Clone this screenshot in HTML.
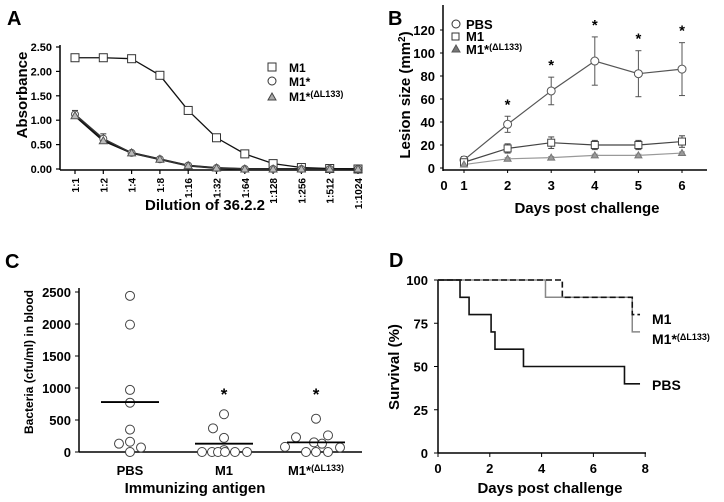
<!DOCTYPE html>
<html><head><meta charset="utf-8">
<style>
html,body{margin:0;padding:0;background:#fff;}
svg{display:block;font-family:"Liberation Sans",Arial,sans-serif;font-weight:bold;}
</style></head>
<body>
<svg id="fig" width="724" height="502" viewBox="0 0 724 502" xmlns="http://www.w3.org/2000/svg">
<text x="7" y="25" font-size="20">A</text>
<text x="388" y="25" font-size="20">B</text>
<text x="5" y="268" font-size="20">C</text>
<text x="389" y="267" font-size="20">D</text>
<g id="pa"></g>
<g id="pb"></g>
<g id="pc"></g>
<g id="pd"></g>
</svg>
<script>
// Panel A data
const aCats = ["1:1","1:2","1:4","1:8","1:16","1:32","1:64","1:128","1:256","1:512","1:1024"];
const aM1 = [2.28,2.28,2.26,1.92,1.20,0.64,0.31,0.11,0.03,0.01,0.00];
const aM1s = [1.12,0.62,0.33,0.20,0.07,0.02,0.00,0.00,0.00,0.00,0.00];
const aDL = [1.09,0.58,0.33,0.20,0.07,0.02,0.00,0.00,0.00,0.00,0.00];
const aErr = [0.08,0.10,0.02,0.02,0.01,0.01,0,0,0,0,0];
const aTicks = ["0.00","0.50","1.00","1.50","2.00","2.50"];
// Panel B data
const bDays = [1,2,3,4,5,6];
const bPBS = [7,38,67,93,82,86];
const bPBSerr = [3,7,12,21,20,23];
const bM1 = [5,17,22,20,20,23];
const bM1err = [3,4,5,4,4,5];
const bDL = [3,8,9,11,11,13];
const bDLerr = [1,1,1,1,1,1];
const bStarDays = [2,3,4,5,6];
const bTicks = [0,20,40,60,80,100,120];
// Panel C data
const cGroups = ["PBS","M1","M1*"];
const cPBS = [2440,1990,970,770,350,130,160,70,0];
const cPBSoff = [0,0,0,0,0,-11,0,11,0];
const cM1 = [590,370,220,30,0,0,0,0,0,0];
const cM1off = [0,-11,0,0,-22,-12,-6,1,11,23];
const cDL = [520,230,260,150,130,80,70,0,0,0];
const cDLoff = [0,-20,12,-2,6,-31,24,-10,0,12];
const cMeans = [780,130,150];
const cTicks = [0,500,1000,1500,2000,2500];
// Panel D data
const dPBSt = [0,0.85,1.2,2.05,2.2,3.3,7.2,7.8];
const dPBSv = [100,90,80,70,60,50,40,40];
const dM1t = [0,4.8,7.5,7.8];
const dM1v = [100,90,80,80];
const dDLt = [0,4.15,7.5,7.8];
const dDLv = [100,90,70,70];
const dXTicks = [0,2,4,6,8];
const dYTicks = [0,25,50,75,100];

const NS="http://www.w3.org/2000/svg";
function mk(parent,tag,attrs,txt){const e=document.createElementNS(NS,tag);for(const k in attrs)e.setAttribute(k,attrs[k]);if(txt!==undefined)e.textContent=txt;parent.appendChild(e);return e;}

// ---------- Panel A ----------
(function(){
const g=document.getElementById('pa');
const X=i=>75+i*28.3, Y=v=>169-v*48.8;
let e=mk(g,'line',{x1:60,y1:45,x2:60,y2:170,stroke:'#000','stroke-width':1.5});


e=mk(g,'line',{x1:60,y1:170,x2:362,y2:170,stroke:'#000','stroke-width':1.5});


aTicks.forEach(t=>{const y=Y(+t);mk(g,'line',{x1:56,y1:y,x2:60,y2:y,stroke:'#000','stroke-width':1.2});
 e=mk(g,'text',{x:52,y:y+4,'font-size':11,'text-anchor':'end'},t);
 
 });
aCats.forEach((c,i)=>{const x=X(i);mk(g,'line',{x1:x,y1:170,x2:x,y2:174,stroke:'#000','stroke-width':1.2});
 e=mk(g,'text',{x:0,y:0,'font-size':10,'text-anchor':'end',transform:`translate(${x+4},178) rotate(-90)`},c);
 
 });
e=mk(g,'text',{x:205,y:210,'font-size':15,'text-anchor':'middle'},'Dilution of 36.2.2');


e=mk(g,'text',{x:0,y:0,'font-size':15,'text-anchor':'middle',transform:'translate(27,95) rotate(-90)'},'Absorbance');


function line(arr,name,w,col){let d=arr.map((v,i)=>(i?'L':'M')+X(i)+' '+Y(v)).join('');
 e=mk(g,'path',{d:d,fill:'none',stroke:col,'stroke-width':w});
 
 }
line(aDL,'a-line-m1-dl133',2,'#111');line(aM1s,'a-line-m1star',1.5,'#333');line(aM1,'a-line-m1',1.3,'#111');
aM1s.forEach((v,i)=>{if(aErr[i]>0){mk(g,'line',{x1:X(i),y1:Y(v+aErr[i]),x2:X(i),y2:Y(v-aErr[i]),stroke:'#333'});mk(g,'line',{x1:X(i)-3,y1:Y(v+aErr[i]),x2:X(i)+3,y2:Y(v+aErr[i]),stroke:'#333'});}});
aM1.forEach((v,i)=>{e=mk(g,'rect',{x:X(i)-4,y:Y(v)-4,width:8,height:8,fill:'#fff',stroke:'#333','stroke-width':1});
 
 });
aM1s.forEach((v,i)=>{e=mk(g,'circle',{cx:X(i),cy:Y(v),r:3.5,fill:'#fff',stroke:'#555'});
 
 });
aDL.forEach((v,i)=>{const x=X(i),y=Y(v);e=mk(g,'path',{d:`M${x} ${y-4}L${x+4} ${y+3}L${x-4} ${y+3}Z`,fill:'#bbb',stroke:'#555'});
 
 });
// legend
mk(g,'rect',{x:268,y:63,width:8,height:8,fill:'#fff',stroke:'#333'});
mk(g,'circle',{cx:272,cy:81,r:4,fill:'#fff',stroke:'#333'});
mk(g,'path',{d:'M272 93L276 100L268 100Z',fill:'#aaa',stroke:'#444'});
e=mk(g,'text',{x:289,y:72,'font-size':12},'M1');
e=mk(g,'text',{x:289,y:86,'font-size':12},'M1*');
e=mk(g,'text',{x:289,y:101,'font-size':12});e.innerHTML='M1*<tspan font-size="9" dy="-4">(ΔL133)</tspan>';
})();

// ---------- Panel B ----------
(function(){
const g=document.getElementById('pb');
const X=d=>464+(d-1)*43.6, Y=v=>168-v*1.15;
let e=mk(g,'line',{x1:443,y1:5,x2:443,y2:171,stroke:'#000','stroke-width':1.5});

e=mk(g,'line',{x1:443,y1:170,x2:707,y2:170,stroke:'#000','stroke-width':1.5});

bTicks.forEach(t=>{const y=Y(t);mk(g,'line',{x1:440,y1:y,x2:443,y2:y,stroke:'#000'});
 e=mk(g,'text',{x:435,y:y+5,'font-size':13,'text-anchor':'end'},t);
 });
e=mk(g,'text',{x:444,y:190,'font-size':13,'text-anchor':'middle'},'0');
bDays.forEach(d=>{const x=X(d);mk(g,'line',{x1:x,y1:170,x2:x,y2:173,stroke:'#000'});
 e=mk(g,'text',{x:x,y:190,'font-size':13,'text-anchor':'middle'},d);
 });
e=mk(g,'text',{x:587,y:213,'font-size':15,'text-anchor':'middle'},'Days post challenge');

e=mk(g,'text',{x:0,y:0,'font-size':15,'text-anchor':'middle',transform:'translate(410,95) rotate(-90)'});
e.innerHTML='Lesion size (mm<tspan font-size="10" dy="-5">2</tspan><tspan dy="5">)</tspan>';

function series(v,err,col,name){
 e=mk(g,'path',{d:v.map((y,i)=>(i?'L':'M')+X(bDays[i])+' '+Y(y)).join(''),fill:'none',stroke:col,'stroke-width':1.2});
 
 v.forEach((y,i)=>{const x=X(bDays[i]);mk(g,'line',{x1:x,y1:Y(y+err[i]),x2:x,y2:Y(y-err[i]),stroke:col});
  mk(g,'line',{x1:x-3,y1:Y(y+err[i]),x2:x+3,y2:Y(y+err[i]),stroke:col});mk(g,'line',{x1:x-3,y1:Y(y-err[i]),x2:x+3,y2:Y(y-err[i]),stroke:col});});}
series(bDL,bDLerr,'#999','b-line-m1-dl133');series(bM1,bM1err,'#444','b-line-m1');series(bPBS,bPBSerr,'#555','b-line-pbs');
bPBS.forEach((v,i)=>{e=mk(g,'circle',{cx:X(bDays[i]),cy:Y(v),r:4,fill:'#fff',stroke:'#555'});});
bM1.forEach((v,i)=>{e=mk(g,'rect',{x:X(bDays[i])-3.5,y:Y(v)-3.5,width:7,height:7,fill:'#fff',stroke:'#444'});});
bDL.forEach((v,i)=>{const x=X(bDays[i]),y=Y(v);e=mk(g,'path',{d:`M${x} ${y-3.5}L${x+3.5} ${y+2.5}L${x-3.5} ${y+2.5}Z`,fill:'#999',stroke:'#777'});});
bStarDays.forEach(d=>{const i=bDays.indexOf(d);const top=bPBS[i]+bPBSerr[i];
 e=mk(g,'text',{x:X(d),y:Y(top)-7,'font-size':15,'text-anchor':'middle'},'*');
 });
mk(g,'circle',{cx:456,cy:24,r:4,fill:'#fff',stroke:'#333'});
mk(g,'rect',{x:452,y:33,width:7,height:7,fill:'#fff',stroke:'#333'});
mk(g,'path',{d:'M456 45L460 52L452 52Z',fill:'#777',stroke:'#555'});
e=mk(g,'text',{x:466,y:29,'font-size':13},'PBS');
e=mk(g,'text',{x:466,y:41,'font-size':13},'M1');
e=mk(g,'text',{x:466,y:54,'font-size':13});e.innerHTML='M1*<tspan font-size="9" dy="-4">(ΔL133)</tspan>';
})();

// ---------- Panel C ----------
(function(){
const g=document.getElementById('pc');
const cx=[130,224,316];const Y=v=>452-v*0.064;
let e=mk(g,'line',{x1:79,y1:288,x2:79,y2:452,stroke:'#000','stroke-width':1.5});

e=mk(g,'line',{x1:79,y1:452,x2:362,y2:452,stroke:'#000','stroke-width':1.5});

cTicks.forEach(t=>{const y=Y(t);mk(g,'line',{x1:75,y1:y,x2:79,y2:y,stroke:'#000'});
 e=mk(g,'text',{x:71,y:y+5,'font-size':13,'text-anchor':'end'},t);
 });
e=mk(g,'text',{x:130,y:475,'font-size':13,'text-anchor':'middle'},'PBS');
e=mk(g,'text',{x:224,y:475,'font-size':13,'text-anchor':'middle'},'M1');
e=mk(g,'text',{x:316,y:475,'font-size':13,'text-anchor':'middle'});e.innerHTML='M1*<tspan font-size="9" dy="-4">(ΔL133)</tspan>';
e=mk(g,'text',{x:195,y:493,'font-size':15,'text-anchor':'middle'},'Immunizing antigen');

e=mk(g,'text',{x:0,y:0,'font-size':12,'text-anchor':'middle',transform:'translate(33,362) rotate(-90)'},'Bacteria (cfu/ml) in blood');

[[cPBS,cPBSoff],[cM1,cM1off],[cDL,cDLoff]].forEach((p,gi)=>{p[0].forEach((v,i)=>{
 e=mk(g,'circle',{cx:cx[gi]+p[1][i],cy:Y(v),r:4.5,fill:'#fff',stroke:'#444','stroke-width':1});
 });});
cMeans.forEach((m,gi)=>{e=mk(g,'line',{x1:cx[gi]-29,y1:Y(m),x2:cx[gi]+29,y2:Y(m),stroke:'#000','stroke-width':1.8});
 });
[1,2].forEach(gi=>{e=mk(g,'text',{x:cx[gi],y:400,'font-size':17,'text-anchor':'middle'},'*');
 });
})();

// ---------- Panel D ----------
(function(){
const g=document.getElementById('pd');
const X=t=>438+t*25.9, Y=v=>453-v*1.73;
let e=mk(g,'line',{x1:438,y1:280,x2:438,y2:453,stroke:'#000','stroke-width':1.5});

e=mk(g,'line',{x1:438,y1:453,x2:646,y2:453,stroke:'#000','stroke-width':1.5});

dYTicks.forEach(t=>{const y=Y(t);mk(g,'line',{x1:434,y1:y,x2:438,y2:y,stroke:'#000'});
 e=mk(g,'text',{x:428,y:y+5,'font-size':13,'text-anchor':'end'},t);
 });
dXTicks.forEach(t=>{const x=X(t);mk(g,'line',{x1:x,y1:453,x2:x,y2:457,stroke:'#000'});
 e=mk(g,'text',{x:x,y:473,'font-size':13,'text-anchor':'middle'},t);
 });
e=mk(g,'text',{x:550,y:493,'font-size':15,'text-anchor':'middle'},'Days post challenge');

e=mk(g,'text',{x:0,y:0,'font-size':15,'text-anchor':'middle',transform:'translate(399,367) rotate(-90)'},'Survival  (%)');

function step(ts,vs){let d='M'+X(ts[0])+' '+Y(vs[0]);for(let i=1;i<ts.length;i++){d+='L'+X(ts[i])+' '+Y(vs[i-1])+'L'+X(ts[i])+' '+Y(vs[i]);}return d;}
e=mk(g,'path',{d:step(dDLt,dDLv),fill:'none',stroke:'#888','stroke-width':1.5});
e=mk(g,'path',{d:step(dM1t,dM1v),fill:'none',stroke:'#111','stroke-width':1.6,'stroke-dasharray':'6,3'});
e=mk(g,'path',{d:step(dPBSt,dPBSv),fill:'none',stroke:'#111','stroke-width':1.6});
e=mk(g,'text',{x:652,y:324,'font-size':14},'M1');
e=mk(g,'text',{x:652,y:344,'font-size':14});e.innerHTML='M1*<tspan font-size="9" dy="-4">(ΔL133)</tspan>';
e=mk(g,'text',{x:652,y:390,'font-size':14},'PBS');
})();
</script>
</body></html>
